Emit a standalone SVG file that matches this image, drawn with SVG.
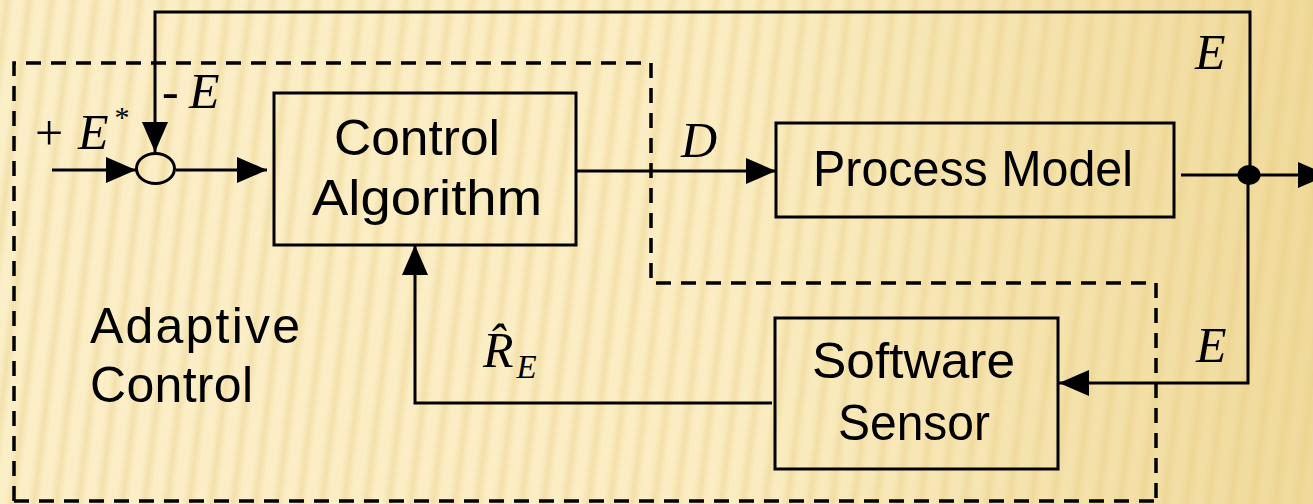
<svg xmlns="http://www.w3.org/2000/svg" width="1313" height="504" viewBox="0 0 1313 504">
  <defs>
    <linearGradient id="bg" x1="0" y1="0" x2="1" y2="0">
      <stop offset="0" stop-color="#FBEFC8"/>
      <stop offset="0.55" stop-color="#FBEDC3"/>
      <stop offset="1" stop-color="#F0DA9B"/>
    </linearGradient>
    <linearGradient id="stripeFill" x1="0" y1="0" x2="1" y2="0">
      <stop offset="0" stop-color="#E6CA7E" stop-opacity="0"/>
      <stop offset="0.5" stop-color="#E6CA7E" stop-opacity="0.38"/>
      <stop offset="1" stop-color="#E6CA7E" stop-opacity="0"/>
    </linearGradient>
    <pattern id="stripes" width="22" height="60" patternUnits="userSpaceOnUse" patternTransform="rotate(7)">
      <rect x="0" y="0" width="14" height="60" fill="url(#stripeFill)"/>
    </pattern>
    <marker id="arrow" markerUnits="userSpaceOnUse" markerWidth="30" markerHeight="26" refX="30" refY="13" orient="auto">
      <path d="M0,0 L30,13 L0,26 Z" fill="#000"/>
    </marker>
    <style>
      .box { fill: none; stroke: #000; stroke-width: 3; }
      .wire { fill: none; stroke: #000; stroke-width: 3; }
      .arrowed { marker-end: url(#arrow); }
      .dash { fill: none; stroke: #000; stroke-width: 3.5; stroke-dasharray: 15 10; }
      .lbl { font-family: "Liberation Sans", Arial, sans-serif; font-size: 50px; fill: #000; }
      .math { font-family: "Liberation Serif", "Times New Roman", serif; font-style: italic; font-size: 50px; fill: #000; }
      .mathup { font-family: "Liberation Serif", "Times New Roman", serif; font-size: 50px; fill: #000; }
      .sup { font-style: normal; font-size: 30px; }
      .sub { font-size: 33px; }
    </style>
  </defs>

  <rect x="0" y="0" width="1313" height="504" fill="url(#bg)"/>
  <rect x="0" y="0" width="1313" height="504" fill="url(#stripes)"/>

  <g id="adaptive-boundary">
    <path class="dash" d="M14,501 V63 H651 V283 H1156 V504"/>
    <path class="dash" d="M14,501 H1156"/>
    <text class="lbl" x="90" y="343" textLength="210" lengthAdjust="spacing">Adaptive</text>
    <text class="lbl" x="90" y="402" textLength="163" lengthAdjust="spacing">Control</text>
  </g>

  <g id="connectors">
    <path class="wire arrowed" d="M52,170 H136"/>
    <path class="wire arrowed" d="M176,170 H267"/>
    <path class="wire arrowed" d="M576,171 H776"/>
    <path class="wire arrowed" d="M1181,175 H1328"/>
    <path class="wire arrowed" d="M1250,175 V12 H155 V152"/>
    <path class="wire arrowed" d="M1248,175 V383 H1059"/>
    <path class="wire arrowed" d="M772,403 H415 V245"/>
    <ellipse cx="1249" cy="175" rx="11.5" ry="10" fill="#000"/>
  </g>

  <g id="sum">
    <ellipse cx="155.5" cy="168.5" rx="19" ry="15" fill="none" stroke="#000" stroke-width="3"/>
  </g>

  <g id="control-algorithm">
    <rect class="box" x="274" y="93" width="302" height="152"/>
    <text class="lbl" x="417" y="155" text-anchor="middle" textLength="166" lengthAdjust="spacingAndGlyphs">Control</text>
    <text class="lbl" x="427" y="215" text-anchor="middle" textLength="230" lengthAdjust="spacingAndGlyphs">Algorithm</text>
  </g>

  <g id="process-model">
    <rect class="box" x="776" y="123" width="398" height="94"/>
    <text class="lbl" x="813" y="186" textLength="320" lengthAdjust="spacingAndGlyphs">Process Model</text>
  </g>

  <g id="software-sensor">
    <rect class="box" x="775" y="318" width="283" height="151"/>
    <text class="lbl" x="812" y="378" textLength="203" lengthAdjust="spacingAndGlyphs">Software</text>
    <text class="lbl" x="838" y="440" textLength="152" lengthAdjust="spacingAndGlyphs">Sensor</text>
  </g>

  <g id="labels">
    <text class="mathup" x="35" y="150">+</text>
    <text class="math" x="78" y="149">E<tspan class="sup" dx="6" dy="-22">*</tspan></text>
    <text class="mathup" x="162" y="108">-</text>
    <text class="math" x="189" y="108">E</text>
    <text class="math" x="681" y="157">D</text>
    <text class="math" x="1195" y="69">E</text>
    <text class="math" x="1196" y="362">E</text>
    <text class="math" x="483" y="367">R&#x302;<tspan class="sub" dx="3" dy="11">E</tspan></text>
  </g>
</svg>
